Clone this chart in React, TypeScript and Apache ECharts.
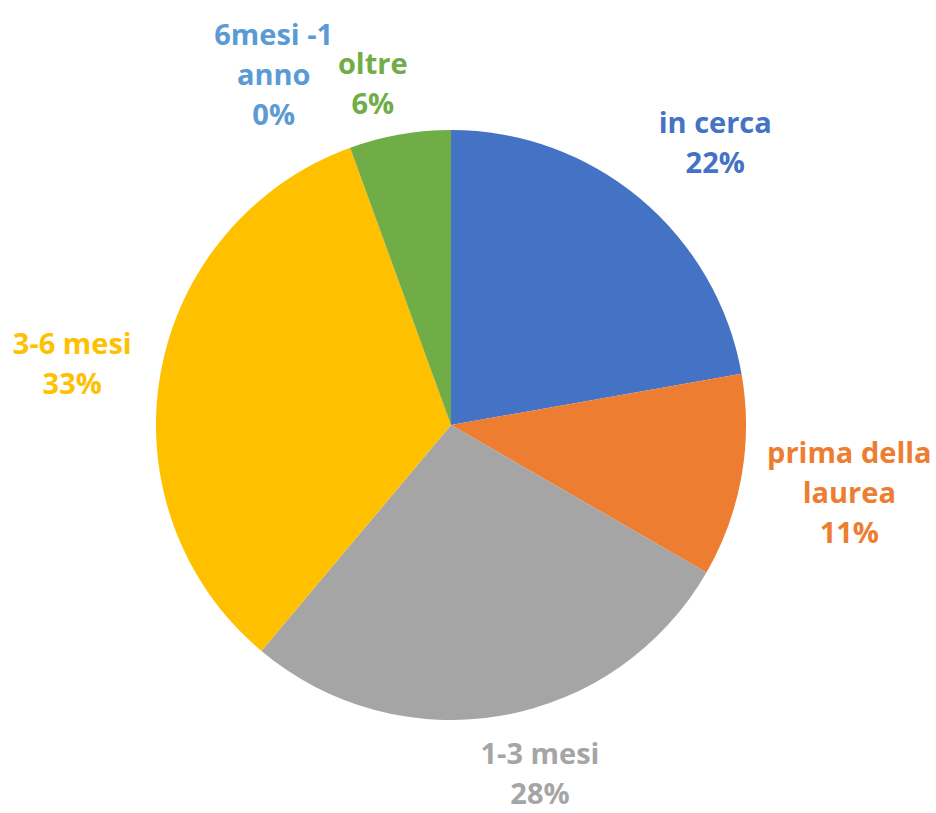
import React, { useEffect, useRef } from "react";
import * as echarts from "echarts";

const categories = ["in cerca", "prima della\nlaurea", "1-3 mesi", "3-6 mesi", "6mesi -1\nanno", "oltre"];
const values = [4, 2, 5, 6, 0, 1];
const colors = ["#4472C4", "#ED7D31", "#A5A5A5", "#FFC000", "#5B9BD5", "#70AD47"];

const CX = 451;
const CY = 425;
const R = 295;
const GAP = 18;
// small label nudges (Excel "best fit" placement)
const labelNudge: [number, number][] = [
  [20, 8],
  [0, -4],
  [26, -10],
  [-6, 3],
  [-44, 15],
  [-16, 10],
];

export default function App() {
  const ref = useRef<HTMLDivElement>(null);
  useEffect(() => {
    if (!ref.current) return;
    const chart = echarts.init(ref.current, null, { renderer: "svg" });
    const total = values.reduce((a, b) => a + b, 0);
    const mids: number[] = [];
    let cum = 0;
    values.forEach((v) => {
      mids.push((2 * Math.PI * (cum + v / 2)) / total);
      cum += v;
    });
    chart.setOption({
      animation: false,
      backgroundColor: "#ffffff",
      series: [
        {
          type: "pie",
          center: [CX, CY],
          radius: [0, R],
          startAngle: 90,
          clockwise: true,
          percentPrecision: 0,
          avoidLabelOverlap: false,
          data: categories.map((name, i) => ({
            name,
            value: values[i],
            itemStyle: { color: colors[i] },
            label: { color: colors[i] },
          })),
          itemStyle: { borderWidth: 0 },
          label: {
            show: true,
            position: "outside",
            formatter: "{b}\n{d}%",
            fontFamily: "Open Sans",
            fontWeight: "bold",
            fontSize: 29,
            lineHeight: 40,
            align: "center",
          },
          labelLine: { show: false },
          labelLayout: (params: any) => {
            const i = params.dataIndex;
            const a = mids[i];
            const sx = Math.sin(a);
            const sy = -Math.cos(a);
            const w = params.labelRect.width;
            const h = params.labelRect.height;
            const d = R + GAP + (Math.abs(sx) * w) / 2 + (Math.abs(sy) * h) / 2;
            return {
              x: CX + sx * d + labelNudge[i][0],
              y: CY + sy * d + labelNudge[i][1],
              align: "center",
              verticalAlign: "middle",
            };
          },
        },
      ],
    });
    return () => chart.dispose();
  }, []);
  return (
    <div
      ref={ref}
      style={{ position: "absolute", left: 0, top: 0, width: 936, height: 813 }}
    />
  );
}
